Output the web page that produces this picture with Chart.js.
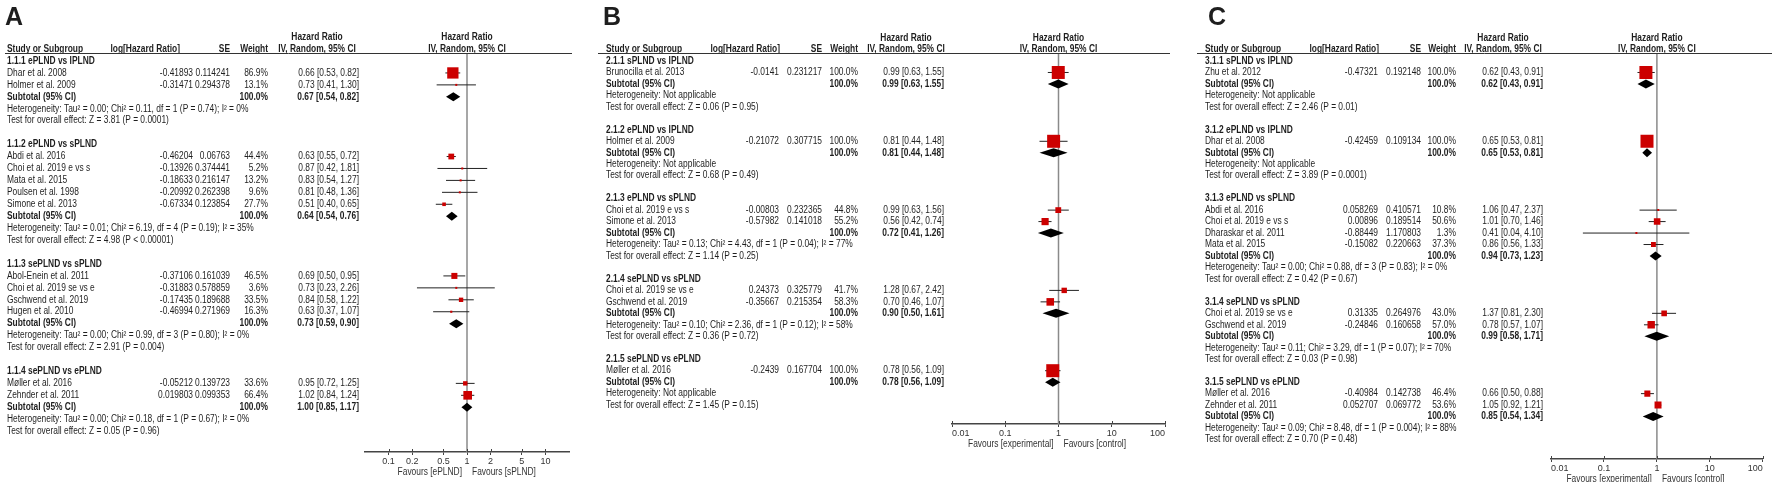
<!DOCTYPE html>
<html>
<head>
<meta charset="utf-8">
<script src="https://cdn.jsdelivr.net/npm/chart.js@4.4.0/dist/chart.umd.min.js"></script>
<style>
  html, body { margin:0; padding:0; background:#fff; }
  #wrap { position:relative; width:1772px; height:482px; overflow:hidden; }
  canvas { position:absolute; top:0; }
</style>
</head>
<body>
<div id="wrap">
  <canvas id="chartA" width="590" height="482" style="left:0px"></canvas>
  <canvas id="chartB" width="590" height="482" style="left:590px"></canvas>
  <canvas id="chartC" width="592" height="482" style="left:1180px"></canvas>
</div>
<script>
/* ===============================
   DATA - PANEL A
================================ */
const groupsA = ["1.1.1 ePLND vs IPLND", "1.1.2 ePLND vs sPLND", "1.1.3 sePLND vs sPLND", "1.1.4 sePLND vs ePLND"];
const studiesA = [
  ["Dhar et al. 2008", "Holmer et al. 2009"],
  ["Abdi et al. 2016", "Choi et al. 2019 e vs s", "Mata et al. 2015", "Poulsen et al. 1998", "Simone et al. 2013"],
  ["Abol-Enein et al. 2011", "Choi et al. 2019 se vs e", "Gschwend et al. 2019", "Hugen et al. 2010"],
  ["Møller et al. 2016", "Zehnder et al. 2011"]
];
const logHrA = [
  ["-0.41893", "-0.31471"],
  ["-0.46204", "-0.13926", "-0.18633", "-0.20992", "-0.67334"],
  ["-0.37106", "-0.31883", "-0.17435", "-0.46994"],
  ["-0.05212", "0.019803"]
];
const seA = [
  ["0.114241", "0.294378"],
  ["0.06763", "0.374441", "0.216147", "0.262398", "0.123854"],
  ["0.161039", "0.578859", "0.189688", "0.271969"],
  ["0.139723", "0.099353"]
];
const weightA = [[86.9, 13.1], [44.4, 5.2, 13.2, 9.6, 27.7], [46.5, 3.6, 33.5, 16.3], [33.6, 66.4]];
const hrA = [[0.66, 0.73], [0.63, 0.87, 0.83, 0.81, 0.51], [0.69, 0.73, 0.84, 0.63], [0.95, 1.02]];
const loA = [[0.53, 0.41], [0.55, 0.42, 0.54, 0.48, 0.40], [0.50, 0.23, 0.58, 0.37], [0.72, 0.84]];
const hiA = [[0.82, 1.30], [0.72, 1.81, 1.27, 1.36, 0.65], [0.95, 2.26, 1.22, 1.07], [1.25, 1.24]];
const subHrA = [0.67, 0.64, 0.73, 1.00];
const subLoA = [0.54, 0.54, 0.59, 0.85];
const subHiA = [0.82, 0.76, 0.90, 1.17];
const hetA = [
  "Heterogeneity: Tau² = 0.00; Chi² = 0.11, df = 1 (P = 0.74); I² = 0%",
  "Heterogeneity: Tau² = 0.01; Chi² = 6.19, df = 4 (P = 0.19); I² = 35%",
  "Heterogeneity: Tau² = 0.00; Chi² = 0.99, df = 3 (P = 0.80); I² = 0%",
  "Heterogeneity: Tau² = 0.00; Chi² = 0.18, df = 1 (P = 0.67); I² = 0%"
];
const testA = [
  "Test for overall effect: Z = 3.81 (P = 0.0001)",
  "Test for overall effect: Z = 4.98 (P < 0.00001)",
  "Test for overall effect: Z = 2.91 (P = 0.004)",
  "Test for overall effect: Z = 0.05 (P = 0.96)"
];
const ticksA = [0.1, 0.2, 0.5, 1, 2, 5, 10];
const favoursA = ["Favours [ePLND]", "Favours [sPLND]"];

/* ===============================
   DATA - PANEL B
================================ */
const groupsB = ["2.1.1 sPLND vs IPLND", "2.1.2 ePLND vs IPLND", "2.1.3 ePLND vs sPLND", "2.1.4 sePLND vs sPLND", "2.1.5 sePLND vs ePLND"];
const studiesB = [
  ["Brunocilla et al. 2013"],
  ["Holmer et al. 2009"],
  ["Choi et al. 2019 e vs s", "Simone et al. 2013"],
  ["Choi et al. 2019 se vs e", "Gschwend et al. 2019"],
  ["Møller et al. 2016"]
];
const logHrB = [["-0.0141"], ["-0.21072"], ["-0.00803", "-0.57982"], ["0.24373", "-0.35667"], ["-0.2439"]];
const seB = [["0.231217"], ["0.307715"], ["0.232365", "0.141018"], ["0.325779", "0.215354"], ["0.167704"]];
const weightB = [[100], [100], [44.8, 55.2], [41.7, 58.3], [100]];
const hrB = [[0.99], [0.81], [0.99, 0.56], [1.28, 0.70], [0.78]];
const loB = [[0.63], [0.44], [0.63, 0.42], [0.67, 0.46], [0.56]];
const hiB = [[1.55], [1.48], [1.56, 0.74], [2.42, 1.07], [1.09]];
const subHrB = [0.99, 0.81, 0.72, 0.90, 0.78];
const subLoB = [0.63, 0.44, 0.41, 0.50, 0.56];
const subHiB = [1.55, 1.48, 1.26, 1.61, 1.09];
const hetB = [
  "Heterogeneity: Not applicable",
  "Heterogeneity: Not applicable",
  "Heterogeneity: Tau² = 0.13; Chi² = 4.43, df = 1 (P = 0.04); I² = 77%",
  "Heterogeneity: Tau² = 0.10; Chi² = 2.36, df = 1 (P = 0.12); I² = 58%",
  "Heterogeneity: Not applicable"
];
const testB = [
  "Test for overall effect: Z = 0.06 (P = 0.95)",
  "Test for overall effect: Z = 0.68 (P = 0.49)",
  "Test for overall effect: Z = 1.14 (P = 0.25)",
  "Test for overall effect: Z = 0.36 (P = 0.72)",
  "Test for overall effect: Z = 1.45 (P = 0.15)"
];

/* ===============================
   DATA - PANEL C
================================ */
const groupsC = ["3.1.1 sPLND vs IPLND", "3.1.2 ePLND vs IPLND", "3.1.3 ePLND vs sPLND", "3.1.4 sePLND vs sPLND", "3.1.5 sePLND vs ePLND"];
const studiesC = [
  ["Zhu et al. 2012"],
  ["Dhar et al. 2008"],
  ["Abdi et al. 2016", "Choi et al. 2019 e vs s", "Dharaskar et al. 2011", "Mata et al. 2015"],
  ["Choi et al. 2019 se vs e", "Gschwend et al. 2019"],
  ["Møller et al. 2016", "Zehnder et al. 2011"]
];
const logHrC = [["-0.47321"], ["-0.42459"], ["0.058269", "0.00896", "-0.88449", "-0.15082"], ["0.31335", "-0.24846"], ["-0.40984", "0.052707"]];
const seC = [["0.192148"], ["0.109134"], ["0.410571", "0.189514", "1.170803", "0.220663"], ["0.264976", "0.160658"], ["0.142738", "0.069772"]];
const weightC = [[100], [100], [10.8, 50.6, 1.3, 37.3], [43.0, 57.0], [46.4, 53.6]];
const hrC = [[0.62], [0.65], [1.06, 1.01, 0.41, 0.86], [1.37, 0.78], [0.66, 1.05]];
const loC = [[0.43], [0.53], [0.47, 0.70, 0.04, 0.56], [0.81, 0.57], [0.50, 0.92]];
const hiC = [[0.91], [0.81], [2.37, 1.46, 4.10, 1.33], [2.30, 1.07], [0.88, 1.21]];
const subHrC = [0.62, 0.65, 0.94, 0.99, 0.85];
const subLoC = [0.43, 0.53, 0.73, 0.58, 0.54];
const subHiC = [0.91, 0.81, 1.23, 1.71, 1.34];
const hetC = [
  "Heterogeneity: Not applicable",
  "Heterogeneity: Not applicable",
  "Heterogeneity: Tau² = 0.00; Chi² = 0.88, df = 3 (P = 0.83); I² = 0%",
  "Heterogeneity: Tau² = 0.11; Chi² = 3.29, df = 1 (P = 0.07); I² = 70%",
  "Heterogeneity: Tau² = 0.09; Chi² = 8.48, df = 1 (P = 0.004); I² = 88%"
];
const testC = [
  "Test for overall effect: Z = 2.46 (P = 0.01)",
  "Test for overall effect: Z = 3.89 (P = 0.0001)",
  "Test for overall effect: Z = 0.42 (P = 0.67)",
  "Test for overall effect: Z = 0.03 (P = 0.98)",
  "Test for overall effect: Z = 0.70 (P = 0.48)"
];

const ticksBC = [0.01, 0.1, 1, 10, 100];
const favoursBC = ["Favours [experimental]", "Favours [control]"];

/* ===============================
   FOREST PLOT BUILDER
================================ */
const FONT = '"Liberation Sans", Arial, sans-serif';
const TXT = "#1e1e1e";
const RED = "#cc0000";
const SX = 0.84; // the source figure's text is a bit narrow

function ciText(h, l, u){
  return h.toFixed(2) + " [" + l.toFixed(2) + ", " + u.toFixed(2) + "]";
}

function makePanel(id, d, L){
  const off = L.offset;
  const canvas = document.getElementById(id);
  const W = canvas.width;

  // row index for every line of the table
  const rows = [];
  let r = 0;
  d.groups.forEach((g, gi) => {
    rows.push({ kind: "group", gi, r });
    d.studies[gi].forEach((s, si) => { r++; rows.push({ kind: "study", gi, si, r }); });
    r++; rows.push({ kind: "sub", gi, r });
    r++; rows.push({ kind: "het", gi, r });
    r++; rows.push({ kind: "test", gi, r });
    r += 2;
  });

  const squares = [], radii = [], datasets = [];
  rows.filter(o => o.kind === "study").forEach(o => {
    const hr = d.hr[o.gi][o.si];
    squares.push({ x: hr, y: o.r });
    const side = Math.max(2, 13 * d.weight[o.gi][o.si] / 100);
    radii.push(side / (2 * Math.SQRT1_2));
    datasets.push({
      type: "scatter", showLine: true, order: 1,
      data: [{ x: d.lo[o.gi][o.si], y: o.r }, { x: d.hi[o.gi][o.si], y: o.r }],
      borderColor: "#222", borderWidth: 1, pointRadius: 0
    });
  });
  datasets.unshift({
    type: "scatter", order: 0, data: squares,
    pointStyle: "rect", pointRadius: radii, pointHoverRadius: radii,
    backgroundColor: RED, borderWidth: 0
  });

  const yMin = (53 - 61) / L.pitch;
  const yMax = (L.axisY - 61) / L.pitch;
  datasets.push({
    type: "scatter", showLine: true, order: 2,
    data: [{ x: 1, y: yMin }, { x: 1, y: yMax }],
    borderColor: "#8a8a8a", borderWidth: 1.5, pointRadius: 0
  });

  const tablePlugin = {
    id: "table" + id,
    afterDatasetsDraw(chart){
      const ctx = chart.ctx, xs = chart.scales.x, ys = chart.scales.y;
      // subtotal diamonds
      ctx.save();
      ctx.fillStyle = "#000";
      rows.filter(o => o.kind === "sub").forEach(o => {
        const y = ys.getPixelForValue(o.r);
        const a = xs.getPixelForValue(d.subLo[o.gi]);
        const m = xs.getPixelForValue(d.subHr[o.gi]);
        const b = xs.getPixelForValue(d.subHi[o.gi]);
        ctx.beginPath();
        ctx.moveTo(a, y); ctx.lineTo(m, y - 4.5); ctx.lineTo(b, y); ctx.lineTo(m, y + 4.5);
        ctx.closePath(); ctx.fill();
      });
      ctx.restore();
    },
    afterDraw(chart){
      const ctx = chart.ctx, xs = chart.scales.x, ys = chart.scales.y;
      const X = v => v - off;
      const put = (t, x, y, align, bold) => {
        ctx.save();
        ctx.font = (bold ? "bold " : "") + L.fs + "px " + FONT;
        ctx.textAlign = align;
        ctx.translate(X(x), y);
        ctx.scale(SX, 1);
        ctx.fillText(t, 0, 0);
        ctx.restore();
      };
      ctx.save();
      ctx.fillStyle = TXT;
      ctx.textBaseline = "middle";

      // panel letter
      ctx.font = "bold 25px " + FONT;
      ctx.textAlign = "left";
      ctx.textBaseline = "alphabetic";
      ctx.fillText(L.label, X(L.labelX), 25);
      ctx.textBaseline = "middle";

      // headers
      const x1 = xs.getPixelForValue(1) + off;
      const h2 = ys.getPixelForValue(-2), h1 = ys.getPixelForValue(-1);
      put("Hazard Ratio", L.headX, h2, "center", true);
      put("Hazard Ratio", x1, h2, "center", true);
      put("Study or Subgroup", L.nameX, h1, "left", true);
      put("log[Hazard Ratio]", L.logHeadX, h1, "right", true);
      put("SE", L.seX, h1, "right", true);
      put("Weight", L.wX, h1, "right", true);
      put("IV, Random, 95% CI", L.headX, h1, "center", true);
      put("IV, Random, 95% CI", x1, h1, "center", true);

      ctx.strokeStyle = "#333";
      ctx.lineWidth = 1;
      ctx.beginPath();
      ctx.moveTo(X(L.ruleX0), 53.5); ctx.lineTo(X(L.ruleX1), 53.5);
      ctx.stroke();

      rows.forEach(o => {
        const y = ys.getPixelForValue(o.r);
        if(o.kind === "group"){
          put(d.groups[o.gi], L.nameX, y, "left", true);
        }else if(o.kind === "study"){
          const g = o.gi, s = o.si;
          put(d.studies[g][s], L.nameX, y, "left", false);
          put(d.logHr[g][s], L.logX, y, "right", false);
          put(d.se[g][s], L.seX, y, "right", false);
          put(d.weight[g][s].toFixed(1) + "%", L.wX, y, "right", false);
          put(ciText(d.hr[g][s], d.lo[g][s], d.hi[g][s]), L.hrX, y, "right", false);
        }else if(o.kind === "sub"){
          put("Subtotal (95% CI)", L.nameX, y, "left", true);
          put("100.0%", L.wX, y, "right", true);
          put(ciText(d.subHr[o.gi], d.subLo[o.gi], d.subHi[o.gi]), L.hrX, y, "right", true);
        }else if(o.kind === "het"){
          put(d.het[o.gi], L.nameX, y, "left", false);
        }else{
          put(d.test[o.gi], L.nameX, y, "left", false);
        }
      });

      // tick marks crossing above the axis line
      ctx.strokeStyle = "#444";
      ctx.lineWidth = 1;
      d.ticks.forEach(v => {
        const px = Math.round(xs.getPixelForValue(v)) + 0.5;
        ctx.beginPath();
        ctx.moveTo(px, L.axisY - 3); ctx.lineTo(px, L.axisY);
        ctx.stroke();
      });

      // favours labels
      ctx.fillStyle = "#333";
      const fy = L.axisY + 20;
      put(d.favours[0], x1 - 5, fy, "right", false);
      put(d.favours[1], x1 + 5, fy, "left", false);
      ctx.restore();
    }
  };

  return new Chart(canvas, {
    data: { datasets },
    options: {
      responsive: false,
      animation: false,
      events: [],
      layout: { padding: { left: L.plotL - off, right: W - (L.plotR - off), top: 53, bottom: 0 } },
      plugins: { legend: { display: false }, tooltip: { enabled: false } },
      scales: {
        x: {
          type: "logarithmic", position: "bottom",
          min: L.xMin, max: L.xMax,
          afterBuildTicks: s => { s.ticks = d.ticks.map(v => ({ value: v })); },
          afterFit: s => { s.height = 482 - L.axisY; },
          ticks: {
            callback: v => String(v), autoSkip: false, maxRotation: 0,
            align: L.tickAlign, padding: 1, color: "#333",
            font: { family: FONT, size: 9 }
          },
          grid: { drawOnChartArea: false, drawTicks: true, tickLength: 3, color: "#444", lineWidth: 1 },
          border: { display: true, color: "#444", width: 1.5 }
        },
        y: { type: "linear", display: false, reverse: true, min: yMin, max: yMax }
      }
    },
    plugins: [tablePlugin]
  });
}

/* ===============================
   PANELS
================================ */
makePanel("chartA", {
  groups: groupsA, studies: studiesA, logHr: logHrA, se: seA, weight: weightA,
  hr: hrA, lo: loA, hi: hiA, subHr: subHrA, subLo: subLoA, subHi: subHiA,
  het: hetA, test: testA, ticks: ticksA, favours: favoursA
}, {
  offset: 0, label: "A", labelX: 5, nameX: 7, logHeadX: 180, logX: 193, seX: 230, wX: 268,
  hrX: 359, headX: 317, ruleX0: 5, ruleX1: 572, plotL: 365, plotR: 569,
  xMin: 0.05, xMax: 20, pitch: 11.94, axisY: 452, fs: 10, tickAlign: "center"
});

makePanel("chartB", {
  groups: groupsB, studies: studiesB, logHr: logHrB, se: seB, weight: weightB,
  hr: hrB, lo: loB, hi: hiB, subHr: subHrB, subLo: subLoB, subHi: subHiB,
  het: hetB, test: testB, ticks: ticksBC, favours: favoursBC
}, {
  offset: 590, label: "B", labelX: 603, nameX: 606, logHeadX: 780, logX: 779, seX: 822, wX: 858,
  hrX: 944, headX: 906, ruleX0: 598, ruleX1: 1170, plotL: 952, plotR: 1165,
  xMin: 0.01, xMax: 100, pitch: 11.47, axisY: 424, fs: 10, tickAlign: "inner"
});

makePanel("chartC", {
  groups: groupsC, studies: studiesC, logHr: logHrC, se: seC, weight: weightC,
  hr: hrC, lo: loC, hi: hiC, subHr: subHrC, subLo: subLoC, subHi: subHiC,
  het: hetC, test: testC, ticks: ticksBC, favours: favoursBC
}, {
  offset: 1180, label: "C", labelX: 1208, nameX: 1205, logHeadX: 1379, logX: 1378, seX: 1421, wX: 1456,
  hrX: 1543, headX: 1503, ruleX0: 1197, ruleX1: 1772, plotL: 1551, plotR: 1764,
  xMin: 0.01, xMax: 100, pitch: 11.47, axisY: 459, fs: 10, tickAlign: "inner"
});
</script>
</body>
</html>
